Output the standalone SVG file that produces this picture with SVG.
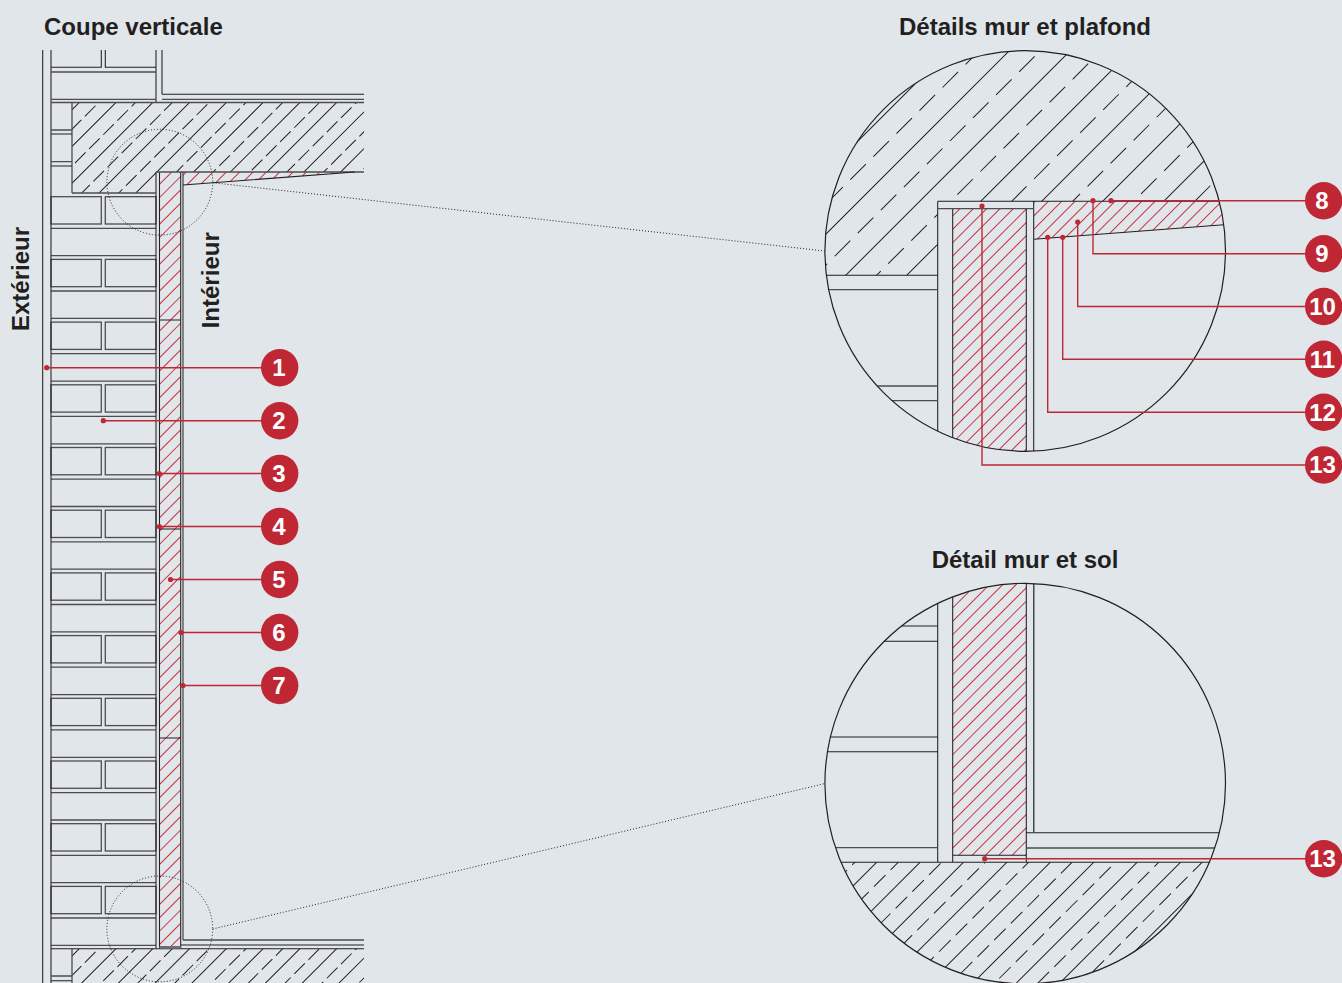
<svg xmlns="http://www.w3.org/2000/svg" width="1342" height="983" viewBox="0 0 1342 983">
<style>
.l{stroke:#231f20;stroke-width:1.05;fill:none}
.g{stroke:#4d4d4f;stroke-width:1.3;fill:none}
.arc{stroke:#231f20;stroke-width:1.2;fill:none}
.dot{stroke:#231f20;stroke-width:1;stroke-dasharray:1 2;fill:none}
.lead{stroke:#c02735;stroke-width:1.4;fill:none}
.pt{fill:#c02735}
.bub{fill:#c02735}
.num{font:bold 24px "Liberation Sans",Arial,sans-serif;fill:#fff;text-anchor:middle}
.t{font:bold 24px "Liberation Sans",Arial,sans-serif;fill:#231f20}
.hk{stroke:#231f20;stroke-width:1;fill:none}
.hr{stroke:#c8323f;stroke-width:4000;stroke-dasharray:1 8.43;fill:none}
</style>
<defs>
<path id="stripes" class="hr" d="M-94.8 0H700"/>
<g id="hatch-small">
<path class="hk" d="M-26 -183V130M0 -183V130M26 -183V130M52 -183V130M78 -183V130M104 -183V130M130 -183V130M156 -183V130M182 -183V130M208 -183V130"/>
<path class="hk" stroke-dasharray="15 5" d="M-12.2 -183.2V130M13.8 -183.2V130M39.8 -183.2V130M65.9 -183.2V130M91.9 -183.2V130M117.9 -183.2V130M143.9 -183.2V130M170 -183.2V130M196 -183.2V130M222 -183.2V130"/>
</g>
<clipPath id="cSlabTop"><path d="M72 102.5H364V172H156V193H72Z"/></clipPath>
<clipPath id="cSlabBot"><path d="M72 948.7H364V983H72Z"/></clipPath>
<clipPath id="cIns"><rect x="159.5" y="172" width="21.2" height="774"/></clipPath>
<clipPath id="cWedge"><path d="M183 172H355L183 185Z"/></clipPath>
<clipPath id="cD1Conc" clip-path="url(#c1)"><path d="M820 45H1230V201.3H937.7V275.3H820Z"/></clipPath>
<clipPath id="cD1Ins" clip-path="url(#c1)"><rect x="952.7" y="208.7" width="73.6" height="245"/></clipPath>
<clipPath id="cD1Wedge" clip-path="url(#c1)"><path d="M1033.7 201.3H1230V224.3L1033.7 239.3Z"/></clipPath>
<clipPath id="cD2Conc" clip-path="url(#c2)"><path d="M820 862.3H1230V990H820Z"/></clipPath>
<clipPath id="cD2Ins" clip-path="url(#c2)"><rect x="952.7" y="580" width="73.6" height="275.3"/></clipPath>
<clipPath id="c1"><circle cx="1025.2" cy="251" r="200.3"/></clipPath>
<clipPath id="c2"><circle cx="1025.2" cy="783.6" r="200.3"/></clipPath>
<g id="row">
<rect class="g" x="51" y="0" width="50.3" height="27.3"/>
<rect class="g" x="105.3" y="0" width="50.7" height="27.3"/>
<path class="g" d="M51 31.6H156M51 59H156"/>
</g>
</defs>
<rect width="1342" height="983" fill="#e1e6ea"/>

<text class="t" x="44" y="35">Coupe verticale</text>
<text class="t" x="1025" y="35" text-anchor="middle">Détails mur et plafond</text>
<text class="t" x="1025" y="568" text-anchor="middle">Détail mur et sol</text>
<text class="t" transform="translate(29 331) rotate(-90)">Extérieur</text>
<text class="t" transform="translate(219.3 328.3) rotate(-90)">Intérieur</text>

<g id="section">
<g clip-path="url(#cSlabTop)"><use href="#hatch-small" transform="translate(116 102.5) rotate(45)"/></g>
<g clip-path="url(#cSlabBot)"><use href="#hatch-small" transform="translate(116 948.7) rotate(45)"/></g>
<g clip-path="url(#cIns)"><use href="#stripes" transform="translate(343.8 0) rotate(45)"/></g>
<g clip-path="url(#cWedge)"><use href="#stripes" transform="translate(371.7 0) rotate(45)"/></g>
<use href="#row" y="196.7"/><use href="#row" y="259.4"/><use href="#row" y="322.1"/><use href="#row" y="384.8"/><use href="#row" y="447.5"/><use href="#row" y="510.2"/><use href="#row" y="572.9"/><use href="#row" y="635.6"/><use href="#row" y="698.3"/><use href="#row" y="761"/><use href="#row" y="823.7"/><use href="#row" y="886.4"/>
<path class="l" d="M42.7 50V983M51 50V983M156 50V102.5M162 50V94.3M156 172V948.7M159.5 172V948.7M180.7 172V948.7"/>
<path class="g" d="M183 172V940"/>
<path class="l" d="M101.3 50V67.3H51M105.3 50V67.3H156"/>
<path class="g" d="M51 72H156M51 99.3H156"/>
<path class="l" d="M162 94.3H364"/>
<path class="g" d="M162 99.3H364M51 102.5H364M72 102.5V193M72 193H156M156 172H364"/>
<path class="g" d="M51 130H72M51 161.7H72M51 976H72"/>
<path class="l" d="M51 134H72M51 166H72M51 980.7H72"/>
<path class="l" d="M183 185L355 172M159.5 320H180.7M159.5 529H180.7M159.5 738H180.7"/>
<path class="g" d="M183 940H364M72 948.7V983"/>
<path class="l" d="M180.7 945H364M51 948.7H364"/>
<rect x="159.5" y="946" width="21.2" height="2.7" fill="#6d6e71"/>
<circle class="dot" cx="159.8" cy="182.2" r="52.9"/>
<circle class="dot" cx="159.8" cy="928.9" r="52.9"/>
</g>

<g id="detail-plafond">
<g clip-path="url(#cD1Conc)"><g transform="translate(1025.2 34.8) rotate(45)">
<path class="hk" d="M-43.13 -320V350M0 -320V350M43.13 -320V350M86.27 -320V350M129.4 -320V350M172.5 -320V350M215.7 -320V350M258.8 -320V350"/>
<path class="hk" stroke-dasharray="22 10.6" d="M-21.2 -317.5V350M21.9 -317.5V350M65 -317.5V350M108.2 -317.5V350M151.3 -317.5V350M194.4 -317.5V350M237.6 -317.5V350"/>
</g></g>
<g clip-path="url(#cD1Ins)"><use href="#stripes" transform="translate(1182 0) rotate(45)"/></g>
<g clip-path="url(#cD1Wedge)"><use href="#stripes" transform="translate(1249.7 0) rotate(45)"/></g>
<path class="l" d="M937.7 201.3H1219.3M826.4 275.3H937.7M937.7 201.3V431.2M952.7 208.7V437.7M1026.3 208.7V451.3M1033.7 201.3V451.1M1033.7 239.3L1223.8 224.7"/>
<path class="g" d="M937.7 208.7H1033.7M828.7 289.7H937.7M877.2 386H937.7M891.9 400.7H937.7"/>
<circle class="arc" cx="1025.2" cy="251" r="200.3"/>
</g>

<g id="detail-sol">
<g clip-path="url(#cD2Conc)"><g transform="translate(1093.7 862.3) rotate(45)">
<path class="hk" d="M-153.5 -110V290M-122.8 -110V290M-92.1 -110V290M-61.4 -110V290M-30.7 -110V290M0 -110V290M30.7 -110V290M61.4 -110V290M92.1 -110V290"/>
<path class="hk" stroke-dasharray="16.3 7.3" d="M-168.9 -103.3V290M-138.2 -103.3V290M-107.5 -103.3V290M-76.8 -103.3V290M-46.1 -103.3V290M-15.35 -103.3V290M15.35 -103.3V290M46 -103.3V290M76.7 -103.3V290"/>
</g></g>
<g clip-path="url(#cD2Ins)"><use href="#stripes" transform="translate(1574 0) rotate(45)"/></g>
<path class="l" d="M901.6 626H937.7M884.2 641.3H937.7M830.4 737H937.7M827.5 751.7H937.7M937.7 603.4V862.3M952.7 596.9V862.3M1026.3 583.3V862.3M1033.7 583.5V832.7M1026.3 832.7H1219.4M952.7 855.3H1026.3M841 862.3H1209.4"/>
<path class="g" d="M835.4 847.7H937.7M1026.3 848H1214.9M1033.7 583.5V832.7"/>
<circle class="arc" cx="1025.2" cy="783.6" r="200.3"/>
</g>

<g id="connectors">
<path class="dot" d="M212.7 182.7L824.7 251M212.7 929L824.7 783.6"/>
<path class="lead" d="M46.7 367.7H280M103.3 420.7H280M159.3 473.5H280M159.3 526.5H280M170.5 579.5H280M181 632.5H280M183 685.5H280"/>
<path class="lead" d="M1111 200.7H1324M1093 200.7V253.7H1324M1077.7 222V306.5H1324M1062.7 237.3V359.3H1324M1047.7 237.3V412.3H1324M982 206V465H1324M984.7 858.7H1324"/>
<g class="pt">
<circle cx="46.7" cy="367.7" r="2.6"/><circle cx="103.3" cy="420.7" r="2.6"/><circle cx="159.3" cy="473.5" r="2.6"/><circle cx="159.3" cy="526.5" r="2.6"/><circle cx="170.5" cy="579.5" r="2.6"/><circle cx="181" cy="632.5" r="2.6"/><circle cx="183" cy="685.5" r="2.6"/>
<circle cx="1111" cy="200.7" r="2.6"/><circle cx="1093" cy="200.7" r="2.6"/><circle cx="1077.7" cy="222" r="2.6"/><circle cx="1062.7" cy="237.3" r="2.6"/><circle cx="1047.7" cy="237.3" r="2.6"/><circle cx="982" cy="206" r="2.6"/><circle cx="984.7" cy="858.7" r="2.6"/>
</g>
</g>

<g id="n1"><circle class="bub" cx="279.7" cy="367.7" r="18.7"/><text class="num" x="279" y="376">1</text></g>
<g id="n2"><circle class="bub" cx="279.7" cy="420.7" r="18.7"/><text class="num" x="279" y="429">2</text></g>
<g id="n3"><circle class="bub" cx="279.7" cy="473.5" r="18.7"/><text class="num" x="279" y="481.8">3</text></g>
<g id="n4"><circle class="bub" cx="279.7" cy="526.5" r="18.7"/><text class="num" x="279" y="534.8">4</text></g>
<g id="n5"><circle class="bub" cx="279.7" cy="579.5" r="18.7"/><text class="num" x="279" y="587.8">5</text></g>
<g id="n6"><circle class="bub" cx="279.7" cy="632.5" r="18.7"/><text class="num" x="279" y="640.8">6</text></g>
<g id="n7"><circle class="bub" cx="279.7" cy="685.5" r="18.7"/><text class="num" x="279" y="693.8">7</text></g>
<g id="n8"><circle class="bub" cx="1323.7" cy="200.7" r="18.7"/><text class="num" x="1322" y="209">8</text></g>
<g id="n9"><circle class="bub" cx="1323.7" cy="253.7" r="18.7"/><text class="num" x="1322" y="262">9</text></g>
<g id="n10"><circle class="bub" cx="1323.7" cy="306.5" r="18.7"/><text class="num" x="1322.5" y="314.8">10</text></g>
<g id="n11"><circle class="bub" cx="1323.7" cy="359.3" r="18.7"/><text class="num" x="1322.5" y="367.6">11</text></g>
<g id="n12"><circle class="bub" cx="1323.7" cy="412.3" r="18.7"/><text class="num" x="1322.5" y="420.6">12</text></g>
<g id="n13"><circle class="bub" cx="1323.7" cy="465" r="18.7"/><text class="num" x="1322.5" y="473.3">13</text></g>
<g id="n13b"><circle class="bub" cx="1323.7" cy="858.7" r="18.7"/><text class="num" x="1322.5" y="867">13</text></g>
</svg>
